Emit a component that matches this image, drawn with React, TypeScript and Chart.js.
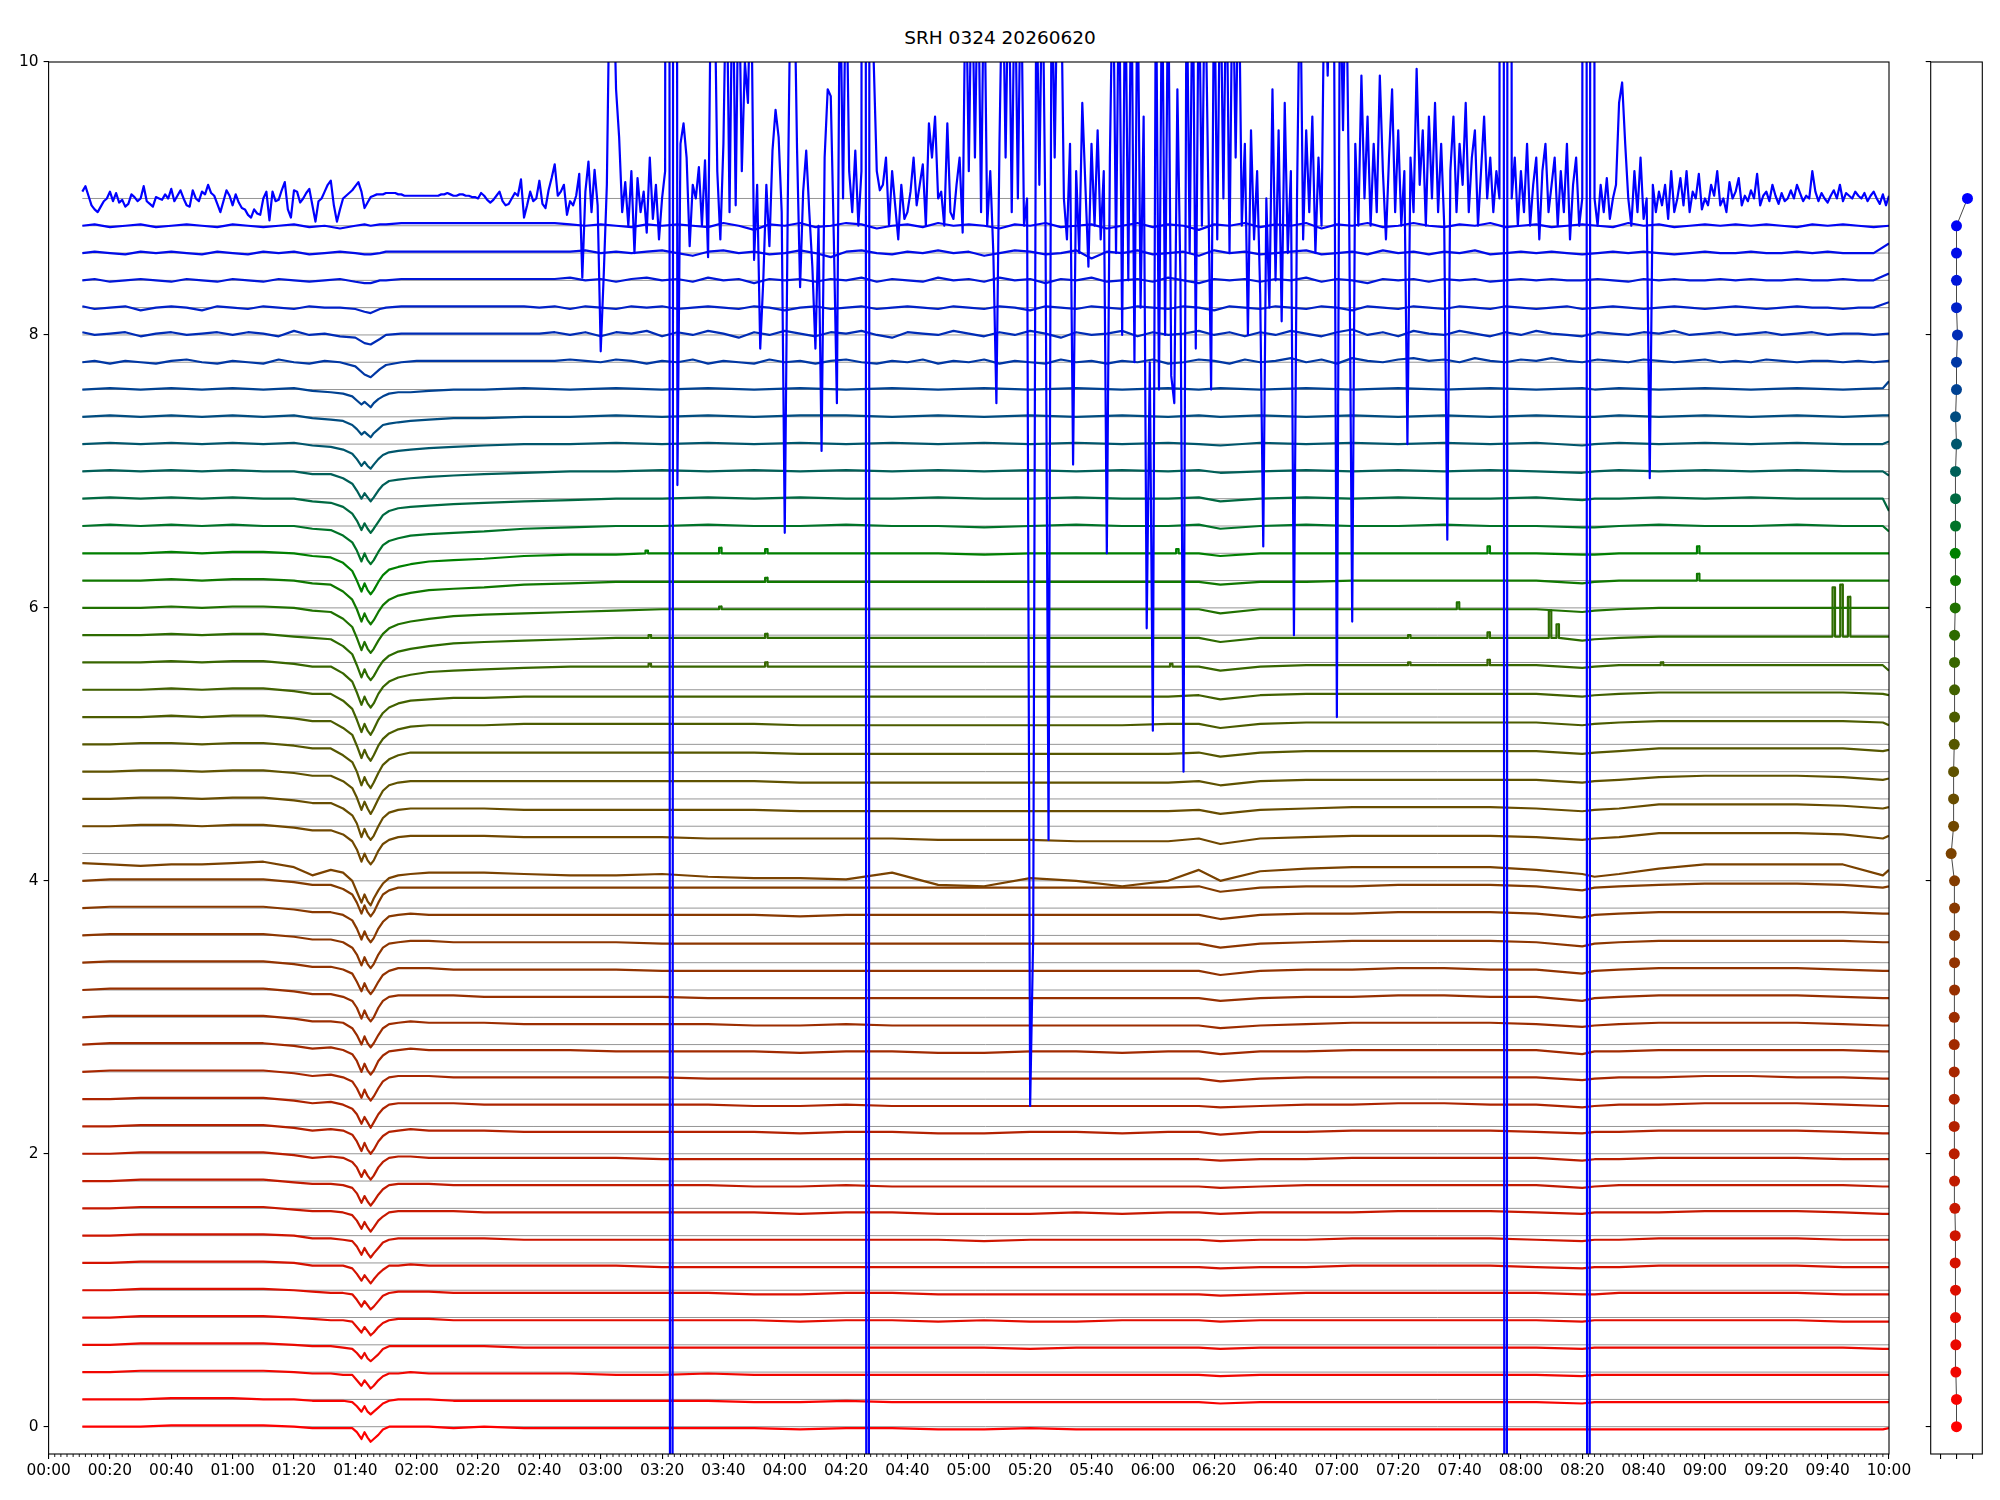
import React, { useEffect, useRef } from 'react';
import { Chart, registerables } from 'chart.js';

Chart.register(...registerables);
Chart.defaults.font.family = '"DejaVu Sans", sans-serif';

const TITLE = 'SRH 0324 20260620';

// vertical offsets (baselines) of the 46 traces
const OFFSETS = [
  0.0, 0.2, 0.4, 0.6, 0.8, 1.0, 1.2, 1.4, 1.6, 1.8,
  2.0, 2.2, 2.4, 2.6, 2.8, 3.0, 3.2, 3.4, 3.6, 3.8,
  4.0, 4.2, 4.4, 4.6, 4.8, 5.0, 5.2, 5.4, 5.6, 5.8,
  6.0, 6.2, 6.4, 6.6, 6.8, 7.0, 7.2, 7.4, 7.6, 7.8,
  8.0, 8.2, 8.4, 8.6, 8.8, 9.0,
];

const COLORS = [
  'rgb(255,0,0)', 'rgb(248,3,0)', 'rgb(241,6,0)', 'rgb(234,9,0)', 'rgb(227,12,0)',
  'rgb(220,15,0)', 'rgb(213,18,0)', 'rgb(206,21,0)', 'rgb(199,24,0)', 'rgb(192,27,0)',
  'rgb(185,30,0)', 'rgb(179,33,0)', 'rgb(173,36,0)', 'rgb(167,39,0)', 'rgb(161,42,0)',
  'rgb(156,45,0)', 'rgb(151,48,0)', 'rgb(146,51,0)', 'rgb(141,54,0)', 'rgb(136,57,0)',
  'rgb(131,60,0)', 'rgb(122,66,0)', 'rgb(113,72,0)', 'rgb(104,77,0)', 'rgb(95,82,0)',
  'rgb(86,87,0)', 'rgb(76,92,0)', 'rgb(66,97,0)', 'rgb(56,102,0)', 'rgb(45,107,0)',
  'rgb(32,113,0)', 'rgb(16,120,0)', 'rgb(0,128,0)', 'rgb(0,115,40)', 'rgb(0,105,65)',
  'rgb(0,95,88)', 'rgb(0,86,108)', 'rgb(0,76,128)', 'rgb(0,66,146)', 'rgb(0,55,164)',
  'rgb(0,44,182)', 'rgb(0,33,200)', 'rgb(0,22,217)', 'rgb(0,12,232)', 'rgb(0,4,245)',
  'rgb(0,0,255)',
];

// right panel: horizontal position of each trace's marker
const DOT_X = [
  0, 0, -0.04, -0.04, -0.06, -0.06, -0.08, -0.08, -0.1, -0.12,
  -0.14, -0.14, -0.14, -0.14, -0.14, -0.14, -0.12, -0.12, -0.12, -0.12,
  -0.12, -0.33, -0.18, -0.18, -0.18, -0.14, -0.12, -0.12, -0.12, -0.12,
  -0.08, -0.06, -0.08, -0.06, -0.06, -0.06, 0, -0.06, 0, 0,
  0.06, 0, 0, 0, 0, 0.68,
];

const X_TICK_MINUTES = [
  0, 20, 40, 60, 80, 100, 120, 140, 160, 180, 200, 220, 240, 260, 280, 300,
  320, 340, 360, 380, 400, 420, 440, 460, 480, 500, 520, 540, 560, 580, 600,
];
const X_TICK_LABELS = [
  '00:00', '00:20', '00:40', '01:00', '01:20', '01:40', '02:00', '02:20', '02:40', '03:00',
  '03:20', '03:40', '04:00', '04:20', '04:40', '05:00', '05:20', '05:40', '06:00', '06:20',
  '06:40', '07:00', '07:20', '07:40', '08:00', '08:20', '08:40', '09:00', '09:20', '09:40', '10:00',
];
const Y_TICKS = [0, 2, 4, 6, 8, 10];
const SIDE_X_TICKS = [-1, 0, 1];

// sample times (minutes after 00:00) for traces 0..38
const GRID_MINUTES = [
  11, 20, 30, 40, 50, 60, 70, 80, 86, 92,
  96, 99, 100.5, 102, 103, 104, 105, 106, 107.5, 109,
  111, 114, 118, 124, 132, 142, 155, 170, 185, 200,
  215, 230, 245, 260, 275, 290, 305, 320, 335, 350,
  365, 375, 382, 395, 410, 425, 440, 455, 470, 485,
  500, 504, 512, 525, 540, 555, 570, 585, 598, 600,
];

// deviations from baseline, in hundredths
const T00 = [0,0,0,1,1,1,1,0,-1,-1, -1,-1,-4,-9,-4,-8,-11,-9,-6,-2, 0,0,0,0,-1,0,-1,-1,-1,-1, -1,-1,-2,-1,-1,-2,-2,-1,-2,-2, -2,-2,-2,-2,-2,-2,-2,-2,-2,-2, -2,-2,-2,-2,-2,-2,-2,-2,-2,-1];
const T01 = [0,0,0,1,1,1,0,0,-1,-1, -1,-2,-5,-9,-5,-9,-11,-9,-6,-3, -1,0,0,0,-1,-1,-1,-1,-1,-1, -1,-2,-2,-1,-2,-2,-2,-2,-2,-2, -2,-2,-3,-2,-2,-2,-2,-2,-2,-2, -3,-2,-2,-2,-2,-2,-2,-2,-2,-2];
const T02 = [0,0,1,1,1,1,1,0,-1,-1, -2,-2,-6,-10,-6,-9,-12,-10,-6,-3, -1,-1,0,-1,-1,-1,-1,-1,-2,-2, -1,-2,-2,-2,-2,-2,-2,-2,-2,-2, -2,-2,-3,-2,-2,-2,-2,-2,-2,-2, -3,-2,-2,-2,-2,-2,-2,-2,-2,-2];
const T03 = [0,0,1,1,1,1,1,0,-1,-1, -2,-3,-6,-10,-6,-10,-12,-10,-7,-3, -1,-1,-1,-1,-1,-1,-2,-2,-2,-2, -2,-2,-2,-2,-2,-2,-2,-3,-2,-2, -2,-2,-3,-2,-2,-2,-2,-2,-2,-2, -3,-2,-2,-2,-2,-2,-2,-2,-3,-3];
const T04 = [0,0,1,1,1,1,1,0,-1,-2, -2,-3,-7,-11,-7,-10,-13,-11,-7,-4, -2,-1,-1,-1,-2,-2,-2,-2,-2,-2, -2,-2,-3,-2,-2,-3,-2,-3,-3,-2, -2,-2,-3,-2,-2,-2,-2,-2,-2,-2, -3,-2,-2,-2,-2,-2,-2,-3,-3,-3];
const T05 = [0,0,1,1,1,1,1,0,-1,-2, -2,-3,-7,-12,-8,-11,-14,-12,-8,-4, -2,-1,-1,-1,-2,-2,-2,-2,-2,-2, -2,-3,-3,-2,-2,-3,-3,-3,-3,-3, -3,-3,-4,-3,-2,-2,-2,-2,-2,-2, -3,-3,-2,-2,-2,-2,-2,-3,-3,-3];
const T06 = [0,0,1,1,1,1,1,0,-2,-2, -2,-4,-8,-13,-9,-12,-15,-12,-8,-5, -2,-2,-1,-2,-2,-2,-2,-2,-2,-3, -3,-3,-3,-3,-3,-3,-3,-3,-3,-3, -3,-3,-4,-3,-3,-2,-2,-2,-2,-3, -4,-3,-3,-2,-2,-2,-2,-3,-3,-3];
const T07 = [0,0,1,1,1,1,1,0,-2,-2, -3,-4,-8,-14,-9,-13,-16,-13,-9,-5, -3,-2,-2,-2,-2,-2,-3,-3,-3,-3, -3,-3,-3,-3,-3,-3,-4,-3,-3,-3, -3,-3,-4,-3,-3,-2,-2,-2,-2,-3, -4,-3,-3,-2,-2,-2,-2,-3,-3,-3];
const T08 = [0,0,1,1,1,1,1,-1,-2,-2, -3,-5,-9,-15,-10,-14,-17,-14,-9,-6, -3,-2,-2,-2,-2,-3,-3,-3,-3,-3, -3,-3,-4,-3,-3,-4,-4,-4,-3,-4, -3,-3,-4,-3,-3,-3,-2,-2,-2,-3, -4,-3,-3,-3,-2,-2,-2,-3,-4,-4];
const T09 = [0,0,1,1,1,1,1,-1,-2,-2, -3,-5,-9,-16,-11,-15,-18,-15,-10,-6, -3,-2,-2,-2,-3,-3,-3,-3,-3,-3, -3,-4,-4,-3,-4,-4,-4,-4,-4,-4, -4,-4,-5,-4,-3,-3,-3,-3,-3,-3, -5,-4,-3,-3,-3,-3,-3,-3,-4,-4];
const T10 = [0,0,1,1,1,1,1,-1,-3,-2, -3,-6,-10,-17,-12,-16,-19,-16,-10,-6, -3,-2,-2,-3,-3,-3,-3,-3,-3,-4, -4,-4,-4,-4,-4,-4,-4,-4,-4,-4, -4,-4,-5,-4,-4,-3,-3,-3,-3,-3, -5,-4,-4,-3,-3,-3,-3,-4,-4,-4];
const T11 = [0,0,1,1,1,1,1,-1,-3,-2, -3,-6,-11,-18,-12,-17,-20,-17,-11,-7, -4,-3,-2,-3,-3,-3,-4,-4,-4,-4, -4,-4,-5,-4,-4,-5,-5,-4,-4,-5, -4,-4,-6,-4,-4,-3,-3,-3,-3,-4, -5,-4,-4,-3,-3,-3,-3,-4,-5,-5];
const T12 = [0,0,1,1,1,1,1,-1,-3,-2, -4,-7,-11,-18,-13,-17,-21,-17,-11,-7, -4,-3,-3,-3,-3,-4,-4,-4,-4,-4, -4,-5,-5,-4,-5,-5,-5,-5,-5,-5, -5,-5,-6,-5,-4,-4,-3,-3,-4,-4, -6,-5,-4,-4,-3,-3,-3,-4,-5,-5];
const T13 = [0,1,1,1,1,1,1,-1,-3,-2, -4,-7,-12,-19,-13,-18,-21,-18,-12,-7, -4,-3,-3,-3,-4,-4,-4,-4,-4,-4, -5,-5,-5,-5,-5,-5,-5,-5,-5,-5, -5,-5,-7,-5,-4,-4,-4,-4,-4,-4, -6,-5,-4,-4,-3,-3,-4,-4,-5,-5];
const T14 = [0,1,1,1,1,1,1,-1,-3,-2, -4,-7,-12,-20,-14,-19,-22,-19,-12,-8, -5,-4,-3,-4,-4,-4,-4,-4,-5,-5, -5,-5,-6,-5,-5,-6,-6,-5,-5,-6, -5,-5,-7,-5,-5,-4,-4,-4,-4,-4, -7,-5,-5,-4,-4,-4,-4,-4,-5,-5];
const T15 = [0,1,1,1,1,1,1,-1,-3,-3, -4,-8,-13,-20,-14,-19,-22,-19,-13,-8, -5,-4,-3,-4,-4,-4,-5,-5,-5,-5, -5,-6,-6,-5,-6,-6,-6,-6,-6,-6, -6,-6,-8,-6,-5,-4,-4,-4,-4,-5, -7,-6,-5,-4,-4,-4,-4,-5,-6,-6];
const T16 = [0,1,1,1,1,1,1,-1,-3,-3, -5,-8,-13,-21,-15,-20,-23,-20,-13,-8, -5,-4,-4,-4,-4,-5,-5,-5,-5,-5, -6,-6,-6,-6,-6,-6,-6,-6,-6,-6, -6,-6,-8,-6,-5,-5,-4,-4,-5,-5, -8,-6,-5,-4,-4,-4,-4,-5,-6,-6];
const T17 = [0,1,1,1,1,1,1,-1,-3,-3, -5,-8,-14,-21,-15,-20,-23,-20,-14,-9, -6,-4,-4,-4,-5,-5,-5,-5,-5,-6, -6,-6,-6,-6,-6,-6,-6,-6,-6,-6, -6,-6,-9,-6,-5,-5,-4,-4,-5,-5, -8,-6,-5,-4,-4,-4,-4,-5,-6,-6];
const T18 = [0,1,1,1,1,1,1,-1,-3,-3, -5,-9,-14,-22,-16,-21,-24,-21,-14,-9, -6,-5,-4,-4,-5,-5,-5,-5,-5,-6, -6,-6,-6,-6,-6,-6,-6,-6,-6,-6, -6,-6,-9,-6,-5,-4,-4,-4,-4,-5, -8,-6,-5,-4,-4,-4,-4,-4,-5,-5];
const T19 = [0,1,1,1,1,1,1,-1,-3,-3, -5,-9,-15,-23,-17,-22,-25,-22,-15,-10, -6,-5,-4,-5,-5,-5,-5,-5,-5,-5, -5,-5,-6,-5,-5,-5,-5,-5,-5,-5, -5,-5,-8,-5,-4,-4,-3,-3,-3,-4, -7,-5,-4,-3,-3,-3,-3,-3,-4,-4];
const T20 = [0,1,1,1,1,1,1,-1,-3,-3, -6,-10,-16,-24,-18,-23,-26,-23,-16,-10, -7,-5,-5,-5,-5,-5,-5,-5,-5,-5, -5,-5,-5,-5,-5,-5,-5,-5,-5,-5, -5,-4,-8,-5,-4,-4,-3,-3,-3,-4, -7,-5,-4,-3,-2,-2,-2,-3,-5,-4];
const T21 = [-7,-8,-9,-8,-8,-7,-6,-10,-16,-12, -14,-20,-28,-36,-30,-35,-38,-33,-27,-22, -18,-16,-15,-14,-14,-14,-15,-16,-16,-15, -17,-18,-18,-19,-14,-23,-24,-18,-20,-24, -20,-12,-20,-13,-11,-10,-10,-10,-10,-12, -15,-17,-15,-11,-8,-8,-8,-8,-16,-12];
const T22 = [0,0,1,1,0,1,1,-1,-3,-3, -6,-11,-17,-26,-20,-25,-28,-25,-18,-13, -10,-8,-7,-7,-7,-7,-8,-8,-8,-8, -9,-9,-9,-9,-9,-10,-10,-10,-11,-11, -11,-9,-13,-9,-8,-7,-7,-7,-7,-8, -10,-9,-8,-5,-5,-5,-5,-6,-9,-7];
const T23 = [0,0,1,1,0,1,1,-1,-3,-3, -7,-12,-18,-28,-22,-27,-30,-27,-20,-14, -10,-8,-7,-7,-7,-7,-8,-8,-8,-8, -8,-8,-9,-9,-9,-9,-9,-9,-9,-9, -9,-8,-11,-8,-7,-6,-6,-6,-6,-7, -9,-8,-7,-4,-4,-4,-4,-5,-7,-6];
const T24 = [0,0,1,1,0,1,1,-1,-3,-3, -7,-12,-19,-28,-22,-27,-31,-27,-20,-14, -10,-8,-7,-7,-7,-7,-7,-7,-7,-7, -7,-7,-8,-8,-8,-8,-8,-8,-8,-8, -8,-7,-10,-7,-6,-6,-6,-6,-6,-6, -8,-7,-6,-4,-3,-3,-3,-4,-6,-5];
const T25 = [0,0,1,1,0,1,1,-1,-3,-3, -8,-13,-20,-30,-24,-29,-32,-28,-21,-15, -11,-8,-6,-6,-6,-6,-6,-6,-6,-6, -6,-6,-7,-7,-7,-7,-7,-7,-7,-7, -7,-6,-9,-6,-5,-5,-5,-5,-5,-5, -7,-6,-5,-3,-3,-3,-3,-3,-5,-4];
const T26 = [0,0,0,1,0,1,1,-1,-3,-3, -8,-13,-21,-30,-24,-29,-32,-28,-21,-16, -12,-9,-7,-6,-6,-6,-5,-5,-5,-5, -5,-5,-6,-6,-6,-6,-6,-6,-6,-6, -5,-5,-8,-5,-4,-4,-4,-4,-4,-4, -6,-5,-4,-3,-3,-3,-3,-3,-4,-6];
const T27 = [0,0,0,1,0,1,1,-1,-3,-3, -8,-14,-22,-31,-25,-30,-33,-29,-22,-17, -13,-10,-8,-7,-6,-6,-5,-5,-5,-5, -5,-5,-5,-5,-5,-5,-5,-5,-5,-5, -5,-4,-7,-4,-3,-3,-3,-3,-3,-3, -5,-4,-3,-2,-2,-2,-2,-2,-3,-4];
const T28 = [0,0,0,1,0,1,1,-1,-3,-3, -8,-14,-22,-31,-25,-30,-33,-30,-23,-18, -14,-11,-9,-7,-6,-5,-4,-3,-3,-3, -3,-3,-3,-3,-3,-3,-3,-3,-3,-3, -3,-3,-6,-3,-2,-2,-2,-2,-2,-2, -4,-3,-2,-2,-2,-2,-2,-2,-2,-6];
const T29 = [0,0,0,1,0,1,1,-1,-2,-3, -8,-14,-22,-31,-25,-30,-33,-30,-24,-19, -15,-12,-10,-8,-6,-5,-4,-3,-2,-2, -2,-2,-2,-2,-2,-2,-2,-2,-2,-2, -2,-2,-5,-2,-2,-2,-2,-2,-2,-2, -4,-3,-2,-1,-1,-1,-1,-1,-1,-1];
const T30 = [0,0,0,1,0,1,1,0,-2,-3, -8,-14,-22,-31,-25,-30,-33,-30,-24,-19, -15,-12,-10,-8,-6,-5,-4,-3,-2,-1, -1,-1,-1,-1,-1,-1,-1,-1,-1,-1, -1,-1,-4,-1,-1,-1,-1,-1,-1,-1, -3,-2,-1,0,0,0,0,0,0,0];
const T31 = [0,0,0,1,0,1,1,0,-2,-3, -8,-14,-21,-30,-24,-29,-32,-29,-23,-18, -14,-11,-9,-7,-6,-5,-3,-2,-1,-1, -1,-1,-1,-1,-1,-1,-1,-1,-1,-1, -1,-1,-3,-1,-1,0,0,0,0,0, -2,-1,0,0,0,0,0,0,0,0];
const T32 = [0,0,0,1,0,1,1,0,-2,-3, -7,-13,-20,-28,-22,-27,-30,-27,-21,-16, -12,-10,-8,-6,-5,-4,-2,-1,-1,0, 0,0,0,0,0,0,-1,0,0,0, 0,0,-2,0,0,0,0,0,0,0, -1,-1,0,0,0,0,0,0,0,0];
const T33 = [0,1,0,1,0,1,0,0,-2,-3, -7,-12,-18,-26,-20,-25,-28,-25,-19,-14, -11,-9,-7,-6,-5,-4,-2,-1,0,0, 1,0,0,1,0,0,-1,0,1,0, 0,1,-2,0,1,0,0,1,0,0, -1,-1,0,1,0,0,1,0,0,-4];
const T34 = [0,1,0,1,0,1,0,0,-2,-3, -6,-11,-16,-23,-18,-22,-25,-22,-17,-12, -9,-7,-6,-5,-4,-3,-2,-1,0,0, 1,0,1,0,0,1,0,0,1,0, 0,1,-2,0,1,0,1,0,0,1, -1,0,0,1,0,1,0,0,0,-9];
const T35 = [0,1,0,1,0,1,0,0,-2,-2, -5,-9,-14,-20,-16,-19,-22,-19,-14,-10, -7,-6,-5,-4,-3,-2,-1,0,0,1, 0,1,0,1,0,1,0,1,0,1, 0,1,-1,0,1,0,1,0,1,0, -1,0,1,0,1,0,1,0,0,-3];
const T36 = [0,1,0,1,0,1,0,1,-1,-2, -4,-7,-11,-16,-13,-16,-18,-15,-11,-8, -6,-5,-4,-3,-2,-1,0,0,1,0, 1,0,1,0,1,0,1,0,1,0, 1,0,-1,1,0,1,0,1,0,1, -1,0,1,0,1,0,1,0,0,2];
const T37 = [0,1,0,1,0,1,0,1,-1,-2, -3,-6,-9,-13,-11,-13,-15,-12,-9,-6, -5,-4,-3,-2,-1,-1,0,0,1,0, 1,0,1,1,0,1,0,1,0,1, 0,1,0,1,0,1,0,1,0,1, 0,0,1,0,1,0,1,0,1,1];
const T38 = [0,1,0,1,0,1,0,1,-1,-2, -3,-5,-8,-11,-9,-11,-13,-10,-7,-5, -3,-2,-2,-1,0,0,1,0,1,0, 1,0,1,0,1,0,1,0,1,0, 1,0,1,0,1,0,1,0,1,0, 1,0,1,0,1,0,1,0,1,6];

const GRID_TRACES = [
  T00, T01, T02, T03, T04, T05, T06, T07, T08, T09,
  T10, T11, T12, T13, T14, T15, T16, T17, T18, T19,
  T20, T21, T22, T23, T24, T25, T26, T27, T28, T29,
  T30, T31, T32, T33, T34, T35, T36, T37, T38,
];

// finer sample times for traces 39..44 (7.8 .. 8.8)
const FINE_MINUTES = [
  11, 15, 20, 25, 30, 35, 40, 45, 50, 55,
  60, 65, 70, 75, 80, 85, 90, 95, 100, 103,
  105, 108, 110, 115, 120, 125, 130, 135, 140, 145,
  150, 155, 160, 165, 170, 175, 180, 185, 190, 195,
  200, 205, 210, 215, 220, 225, 230, 235, 240, 245,
  250, 255, 260, 265, 270, 275, 280, 285, 290, 295,
  300, 305, 310, 315, 320, 325, 330, 335, 340, 345,
  350, 355, 360, 365, 370, 375, 380, 385, 390, 395,
  400, 405, 410, 415, 420, 425, 430, 435, 440, 445,
  450, 455, 460, 465, 470, 475, 480, 485, 490, 495,
  500, 505, 510, 515, 520, 525, 530, 535, 540, 545,
  550, 555, 560, 565, 570, 575, 580, 585, 590, 595,
  600,
];

const F39 = [
  0,1,-1,1,0,-1,1,2,0,-1,
  1,0,-1,2,0,-1,1,0,-3,-9,
  -11,-5,-2,0,1,1,1,1,1,1,
  1,1,1,1,2,1,0,2,1,-1,
  1,0,2,-1,1,0,-1,2,0,1,
  -1,1,2,0,-1,1,0,2,-1,1,
  0,2,-1,1,0,-1,2,0,1,-1,
  1,0,2,-1,0,2,1,-1,2,0,
  1,3,0,2,-1,3,1,0,2,3,
  1,2,0,3,1,0,2,1,3,1,
  0,2,1,0,2,1,0,1,2,0,
  1,0,2,1,0,1,1,0,1,0,
  1,
];
const F40 = [
  2,0,1,2,-1,1,2,0,1,2,
  0,2,1,-1,3,0,1,-1,-2,-6,
  -7,-3,0,1,1,1,1,1,1,1,
  1,1,1,2,0,2,-1,2,1,3,
  -1,2,0,3,1,-2,2,0,3,1,
  -1,2,1,3,0,-2,2,1,0,3,
  1,-1,2,0,3,1,-2,2,0,1,
  3,-1,2,0,1,3,0,2,-1,2,
  0,3,1,-1,2,4,0,2,-1,3,
  1,0,3,1,-1,2,0,3,1,0,
  -1,2,1,0,2,1,3,0,1,2,
  0,1,2,0,1,2,0,1,1,0,
  1,
];
const F41 = [
  1,-1,0,1,-2,0,1,0,-2,1,
  0,-1,1,0,-1,1,0,0,-1,-3,
  -4,-1,0,1,1,1,1,1,1,1,
  1,1,0,1,-1,1,0,-1,1,0,
  1,-1,0,1,0,-1,1,0,-2,0,
  1,-1,0,1,-1,0,1,0,-1,1,
  0,-1,1,0,-2,1,0,-1,1,0,
  -1,1,0,-1,1,0,-2,1,0,-1,
  1,0,-1,1,0,-2,1,0,-1,1,
  0,-1,1,0,-1,1,0,-1,0,1,
  -1,0,1,0,-1,0,1,0,-1,0,
  1,0,-1,0,1,0,0,-1,0,0,
  4,
];
const F42 = [
  0,1,-1,0,1,0,-1,1,0,-1,
  1,0,-1,1,0,-1,0,1,-1,-2,
  -2,0,0,1,1,1,1,1,1,1,
  1,1,1,1,2,0,1,-1,1,2,
  0,1,-1,2,0,1,-2,1,0,1,
  -1,1,0,2,-1,1,0,-1,2,0,
  1,-1,2,0,1,-2,1,0,2,-1,
  0,1,-1,2,0,-2,1,0,1,-1,
  1,0,2,-1,1,0,-2,1,0,1,
  -1,1,0,1,-1,0,1,0,1,0,
  0,1,0,-1,1,0,1,0,0,1,
  0,1,0,0,1,0,0,1,0,0,
  5,
];
const F43 = [
  0,1,0,-1,1,0,1,0,-1,1,
  0,-1,1,0,1,-1,0,1,0,-1,
  -1,0,1,1,1,1,1,1,1,1,
  1,1,1,1,1,2,0,1,0,1,
  2,0,-2,1,2,0,1,-1,0,2,
  0,-3,1,2,0,-1,1,0,2,0,
  1,-2,0,2,1,-1,0,2,-4,1,
  0,2,-1,0,1,-2,2,0,1,-1,
  0,1,2,-1,0,1,-1,2,0,1,
  -1,1,0,2,-1,0,1,0,1,0,
  -1,0,1,0,1,0,-1,0,1,0,
  0,1,0,0,1,0,1,0,0,0,
  7,
];
const F44 = [
  0,1,-1,0,1,-1,0,1,0,-1,
  1,0,-1,0,1,-1,0,-2,0,1,
  0,1,1,2,2,2,2,2,2,2,
  2,2,2,2,1,0,1,0,-1,1,
  0,1,0,-1,2,0,-3,1,0,2,
  -1,0,2,1,-2,0,1,-1,2,0,
  1,0,-2,1,0,2,-1,0,1,-2,
  0,2,-1,1,0,-3,1,0,2,-1,
  1,0,2,-2,1,0,2,-1,0,2,
  0,-1,1,0,2,-1,0,1,-1,0,
  1,0,-1,2,0,1,-1,0,1,0,
  1,0,1,0,-1,1,0,1,0,-1,
  0,
];
const FINE_TRACES = [F39, F40, F41, F42, F43, F44];

// top trace (9.0): one value per minute from 00:11 to 10:00
const TOP_START_MINUTE = 11;
const TOP_VALUES = [
  9.05, 9.09, 9.02, 8.95, 8.92, 8.90, 8.94, 8.98, 9.00, 9.05,
  8.98, 9.04, 8.97, 8.99, 8.94, 8.96, 9.03, 9.01, 8.98, 9.00,
  9.09, 8.98, 8.96, 8.94, 9.01, 9.00, 8.99, 9.03, 9.00, 9.07,
  8.98, 9.02, 9.06, 9.00, 8.95, 8.94, 9.06, 9.00, 8.98, 9.05,
  9.03, 9.10, 9.04, 9.02, 8.96, 8.90, 8.98, 9.06, 9.02, 8.95,
  9.03, 8.97, 8.93, 8.92, 8.88, 8.86, 8.92, 8.89, 8.88, 9.00,
  9.05, 8.84, 9.05, 8.98, 8.99, 9.06, 9.12, 8.92, 8.86, 9.06,
  9.05, 8.97, 9.00, 9.04, 9.07, 8.95, 8.83, 8.98, 9.00, 9.05,
  9.10, 9.13, 8.95, 8.83, 8.92, 9.00, 9.02, 9.04, 9.06, 9.09,
  9.12, 9.05, 8.93, 8.97, 9.01, 9.02, 9.03, 9.03, 9.03, 9.04,
  9.04, 9.04, 9.04, 9.03, 9.03, 9.02, 9.02, 9.02, 9.02, 9.02,
  9.02, 9.02, 9.02, 9.02, 9.02, 9.02, 9.02, 9.03, 9.03, 9.04,
  9.03, 9.02, 9.02, 9.03, 9.03, 9.02, 9.02, 9.01, 9.01, 9.00,
  9.04, 9.02, 8.99, 8.97, 8.99, 9.02, 9.05, 8.98, 8.95, 8.96,
  9.00, 9.04, 9.02, 9.14, 8.86, 8.95, 9.05, 8.98, 9.00, 9.13,
  8.96, 8.93, 9.06, 9.15, 9.25, 9.02, 9.05, 9.10, 8.88, 8.98,
  8.95, 9.02, 9.18, 8.42, 9.05, 9.27, 8.90, 9.21, 8.95, 7.88,
  8.45, 9.10, 10.8, 10.8, 9.80, 9.45, 8.90, 9.12, 8.80, 9.20,
  8.60, 9.15, 8.90, 9.05, 8.75, 9.30, 8.85, 9.10, 8.70, 9.00,
  9.20, 40, -30, 40, 6.90, 9.40, 9.55, 9.30, 8.65, 9.10,
  9.00, 9.23, 8.80, 9.28, 8.57, 10.8, 10.8, 9.20, 8.70, 9.40,
  10.8, 8.90, 10.8, 8.95, 10.8, 9.20, 10.0, 9.70, 10.8, 8.55,
  9.10, 7.90, 8.40, 9.10, 8.65, 9.35, 9.65, 9.45, 8.90, 6.55,
  9.00, 10.8, 10.8, 9.37, 8.35, 9.05, 9.35, 8.90, 8.50, 7.90,
  8.80, 7.15, 9.30, 9.80, 9.75, 8.70, 7.50, 10.8, 9.00, 10.8,
  9.20, 8.90, 9.35, 8.80, 9.20, 40, -30, 40, 10.0, 9.20,
  9.06, 9.10, 9.30, 8.80, 9.20, 8.95, 8.70, 9.10, 8.85, 8.90,
  9.05, 9.30, 8.95, 9.10, 9.25, 8.80, 9.55, 9.30, 9.60, 9.00,
  9.05, 8.80, 9.55, 8.90, 8.85, 9.10, 9.30, 8.75, 10.8, 9.20,
  10.8, 9.30, 10.8, 8.90, 10.8, 8.80, 9.20, 8.60, 7.50, 9.40,
  10.8, 9.30, 10.8, 8.90, 10.8, 9.00, 10.8, 8.80, 9.00, 2.35,
  3.60, 10.8, 9.10, 10.8, 8.80, 4.30, 10.8, 9.30, 10.8, 10.8,
  9.00, 8.70, 9.40, 7.05, 9.20, 8.60, 9.70, 9.10, 8.50, 9.40,
  8.80, 9.50, 8.70, 9.20, 6.40, 9.30, 10.8, 8.60, 10.8, 8.00,
  10.8, 8.40, 10.8, 7.80, 10.8, 8.20, 9.60, 5.85, 7.80, 5.10,
  10.8, 7.60, 10.8, 8.00, 10.8, 7.70, 7.50, 9.80, 8.40, 4.80,
  10.8, 8.60, 10.8, 7.90, 10.8, 8.80, 10.8, 9.20, 7.60, 10.8,
  8.70, 10.8, 9.00, 10.8, 8.60, 10.8, 9.30, 10.8, 8.80, 9.40,
  8.00, 9.50, 8.70, 9.20, 8.30, 6.45, 9.00, 8.20, 9.80, 8.40,
  9.50, 8.10, 9.70, 8.60, 9.20, 5.80, 9.00, 10.8, 8.70, 9.50,
  8.90, 9.60, 8.60, 9.30, 8.80, 10.8, 9.90, 10.8, 10.8, 5.20,
  10.8, 9.50, 10.8, 8.90, 5.90, 9.40, 8.80, 9.90, 9.00, 9.60,
  8.80, 9.40, 8.90, 9.90, 9.20, 8.70, 9.30, 9.80, 8.90, 9.50,
  8.80, 9.20, 7.20, 9.30, 8.90, 9.95, 9.10, 9.50, 8.80, 9.60,
  9.00, 9.70, 8.90, 9.40, 8.80, 6.50, 9.20, 9.60, 8.90, 9.40,
  9.10, 9.70, 8.90, 9.30, 9.50, 8.80, 9.20, 9.60, 9.00, 9.30,
  8.90, 9.20, 9.00, 40, -30, 40, 9.00, 9.30, 8.80, 9.20,
  8.90, 9.40, 8.80, 9.10, 9.30, 8.70, 9.20, 9.40, 8.90, 9.10,
  9.30, 8.80, 9.20, 8.90, 9.40, 8.70, 9.10, 9.30, 8.80, 9.00,
  40, -30, 40, 9.00, 8.80, 9.10, 8.90, 9.15, 8.85, 9.00,
  9.10, 9.70, 9.85, 9.40, 9.00, 8.80, 9.20, 8.90, 9.30, 8.85,
  9.00, 6.95, 9.10, 8.90, 9.05, 8.95, 9.10, 8.85, 9.20, 8.90,
  9.00, 9.15, 8.95, 9.20, 8.90, 9.05, 9.00, 9.18, 8.92, 9.00,
  8.95, 9.10, 9.02, 9.20, 8.95, 9.00, 8.90, 9.12, 9.00, 9.05,
  9.15, 8.95, 9.02, 8.98, 9.06, 9.00, 9.18, 8.95, 9.02, 9.05,
  8.98, 9.10, 9.02, 8.96, 9.04, 8.98, 9.00, 9.06, 9.00, 9.10,
  9.04, 8.98, 9.02, 9.00, 9.20, 9.05, 8.98, 9.04, 9.00, 8.97,
  9.02, 9.06, 9.00, 9.10, 8.98, 9.04, 9.02, 9.00, 9.05, 9.02,
  9.00, 9.04, 8.98, 9.02, 9.05, 9.00, 8.96, 9.03, 8.95, 9.02,
];

// narrow rectangular pulses: [trace index, minute, low value, high value]
const PULSES = [
  [32, 195, 6.40, 6.42], [32, 219, 6.40, 6.44], [32, 234, 6.40, 6.43],
  [32, 368, 6.40, 6.43], [32, 469.5, 6.40, 6.45], [32, 537.8, 6.40, 6.45],
  [31, 234, 6.19, 6.22], [31, 537.8, 6.20, 6.25],
  [30, 219, 5.99, 6.01], [30, 459.5, 5.99, 6.04],
  [29, 196, 5.78, 5.80], [29, 234, 5.78, 5.81], [29, 443.6, 5.78, 5.80],
  [29, 469.5, 5.78, 5.82], [29, 489.5, 5.78, 5.98], [29, 492, 5.78, 5.88],
  [29, 582, 5.79, 6.15], [29, 584.5, 5.79, 6.17], [29, 587, 5.79, 6.08],
  [28, 196, 5.57, 5.59], [28, 234, 5.57, 5.60], [28, 366, 5.57, 5.59],
  [28, 443.6, 5.58, 5.60], [28, 469.5, 5.58, 5.62], [28, 526, 5.58, 5.60],
];

type Pt = { x: number; y: number };

function traceData(i: number): Pt[] {
  let pts: Pt[] = [];
  if (i < GRID_TRACES.length) {
    const dev = GRID_TRACES[i];
    const n = Math.min(dev.length, GRID_MINUTES.length);
    for (let k = 0; k < n; k++) pts.push({ x: GRID_MINUTES[k], y: OFFSETS[i] + dev[k] / 100 });
  } else if (i < GRID_TRACES.length + FINE_TRACES.length) {
    const dev = FINE_TRACES[i - GRID_TRACES.length];
    const n = Math.min(dev.length, FINE_MINUTES.length);
    for (let k = 0; k < n; k++) pts.push({ x: FINE_MINUTES[k], y: OFFSETS[i] + dev[k] / 100 });
  } else {
    TOP_VALUES.forEach((v, k) => pts.push({ x: TOP_START_MINUTE + k, y: v }));
  }
  const pulses = PULSES.filter((p) => p[0] === i);
  if (pulses.length) {
    for (const [, t, lo, hi] of pulses) {
      pts.push({ x: t - 0.4, y: lo }, { x: t - 0.399, y: hi }, { x: t + 0.399, y: hi }, { x: t + 0.4, y: lo });
    }
    pts = pts.sort((a, b) => a.x - b.x);
  }
  return pts;
}

const framePlugin = {
  id: 'frame',
  afterDraw(chart: any) {
    const { ctx, chartArea: a } = chart;
    ctx.save();
    ctx.strokeStyle = '#000';
    ctx.lineWidth = 1.1;
    ctx.strokeRect(a.left, a.top, a.right - a.left, a.bottom - a.top);
    ctx.restore();
  },
};

const minorTickPlugin = {
  id: 'minorTicks',
  afterDraw(chart: any) {
    const xs = chart.scales.x;
    const { ctx, chartArea: a } = chart;
    ctx.save();
    ctx.strokeStyle = '#000';
    ctx.lineWidth = 0.9;
    ctx.beginPath();
    for (let m = 0; m <= 600; m += 2) {
      if (m % 20 === 0) continue;
      const px = xs.getPixelForValue(m);
      ctx.moveTo(px, a.bottom);
      ctx.lineTo(px, a.bottom + 3);
    }
    ctx.stroke();
    ctx.restore();
  },
};

const TICK_FONT = { size: 15.4, family: '"DejaVu Sans", sans-serif' };

function mainConfig(): any {
  const datasets: any[] = [];
  OFFSETS.forEach((off) => {
    datasets.push({
      data: [{ x: 11, y: off }, { x: 600, y: off }],
      borderColor: 'rgb(150,150,150)',
      borderWidth: 1,
      pointRadius: 0,
      order: 1000,
    });
  });
  OFFSETS.forEach((_, i) => {
    datasets.push({
      data: traceData(i),
      borderColor: COLORS[i],
      borderWidth: 2.2,
      pointRadius: 0,
      borderJoinStyle: 'round',
      order: 100 - i,
    });
  });
  return {
    type: 'line',
    data: { datasets },
    options: {
      animation: false,
      responsive: false,
      devicePixelRatio: 1,
      events: [],
      layout: { padding: { top: 62, right: 36, left: 0, bottom: 0 } },
      plugins: { legend: { display: false }, tooltip: { enabled: false }, title: { display: false } },
      elements: { line: { tension: 0 }, point: { radius: 0 } },
      scales: {
        x: {
          type: 'linear',
          min: 0,
          max: 600,
          afterBuildTicks: (ax: any) => { ax.ticks = X_TICK_MINUTES.map((v) => ({ value: v })); },
          afterFit: (s: any) => { s.height = 46; },
          ticks: {
            autoSkip: false, maxRotation: 0, minRotation: 0, padding: 3,
            color: '#000', font: TICK_FONT,
            callback: (_v: any, idx: number) => X_TICK_LABELS[idx] ?? '',
          },
          grid: { drawOnChartArea: false, tickLength: 5, tickColor: '#000', tickWidth: 1.1, lineWidth: 1.1 },
          border: { display: false },
        },
        y: {
          type: 'linear',
          min: -0.2,
          max: 10,
          afterBuildTicks: (ax: any) => { ax.ticks = Y_TICKS.map((v) => ({ value: v })); },
          afterFit: (s: any) => { s.width = 48.6; },
          ticks: { padding: 5, color: '#000', font: TICK_FONT, callback: (v: any) => String(v) },
          grid: { drawOnChartArea: false, tickLength: 5, tickColor: '#000', tickWidth: 1.1, lineWidth: 1.1 },
          border: { display: false },
        },
      },
    },
    plugins: [framePlugin, minorTickPlugin],
  };
}

function sideConfig(): any {
  return {
    type: 'scatter',
    data: {
      datasets: [{
        data: OFFSETS.map((y, i) => ({ x: DOT_X[i], y })),
        showLine: true,
        borderColor: 'rgba(40,40,40,0.85)',
        borderWidth: 1,
        pointRadius: 5.5,
        pointBackgroundColor: COLORS,
        pointBorderColor: COLORS,
        pointBorderWidth: 0,
      }],
    },
    options: {
      animation: false,
      responsive: false,
      devicePixelRatio: 1,
      events: [],
      layout: { padding: { top: 62, right: 17.7, left: 0, bottom: 0 } },
      plugins: { legend: { display: false }, tooltip: { enabled: false } },
      scales: {
        x: {
          type: 'linear', min: -1.6, max: 1.6,
          afterBuildTicks: (ax: any) => { ax.ticks = SIDE_X_TICKS.map((v) => ({ value: v })); },
          afterFit: (s: any) => { s.height = 46; },
          ticks: { callback: () => '', font: TICK_FONT },
          grid: { drawOnChartArea: false, tickLength: 5, tickColor: '#000', tickWidth: 1.1, lineWidth: 1.1 },
          border: { display: false },
        },
        y: {
          type: 'linear', min: -0.2, max: 10,
          afterBuildTicks: (ax: any) => { ax.ticks = Y_TICKS.map((v) => ({ value: v })); },
          afterFit: (s: any) => { s.width = 30.7; },
          ticks: { callback: () => '', font: TICK_FONT },
          grid: { drawOnChartArea: false, tickLength: 5, tickColor: '#000', tickWidth: 1.1, lineWidth: 1.1 },
          border: { display: false },
        },
      },
    },
    plugins: [framePlugin],
  };
}

export default function App() {
  const mainRef = useRef<HTMLCanvasElement>(null);
  const sideRef = useRef<HTMLCanvasElement>(null);
  useEffect(() => {
    const main = new Chart(mainRef.current as HTMLCanvasElement, mainConfig());
    const side = new Chart(sideRef.current as HTMLCanvasElement, sideConfig());
    return () => { main.destroy(); side.destroy(); };
  }, []);
  return (
    <div style={{ position: 'fixed', left: 0, top: 0, width: 2000, height: 1500, background: '#fff' }}>
      <div style={{ position: 'absolute', left: 0, top: 27, width: 2000, textAlign: 'center', fontFamily: '"DejaVu Sans", sans-serif', fontSize: 18.5, lineHeight: '22px', color: '#000' }}>
        {TITLE}
      </div>
      <canvas ref={mainRef} width={1925} height={1500} style={{ position: 'absolute', left: 0, top: 0, width: 1925, height: 1500 }} />
      <canvas ref={sideRef} width={100} height={1500} style={{ position: 'absolute', left: 1900, top: 0, width: 100, height: 1500 }} />
    </div>
  );
}
